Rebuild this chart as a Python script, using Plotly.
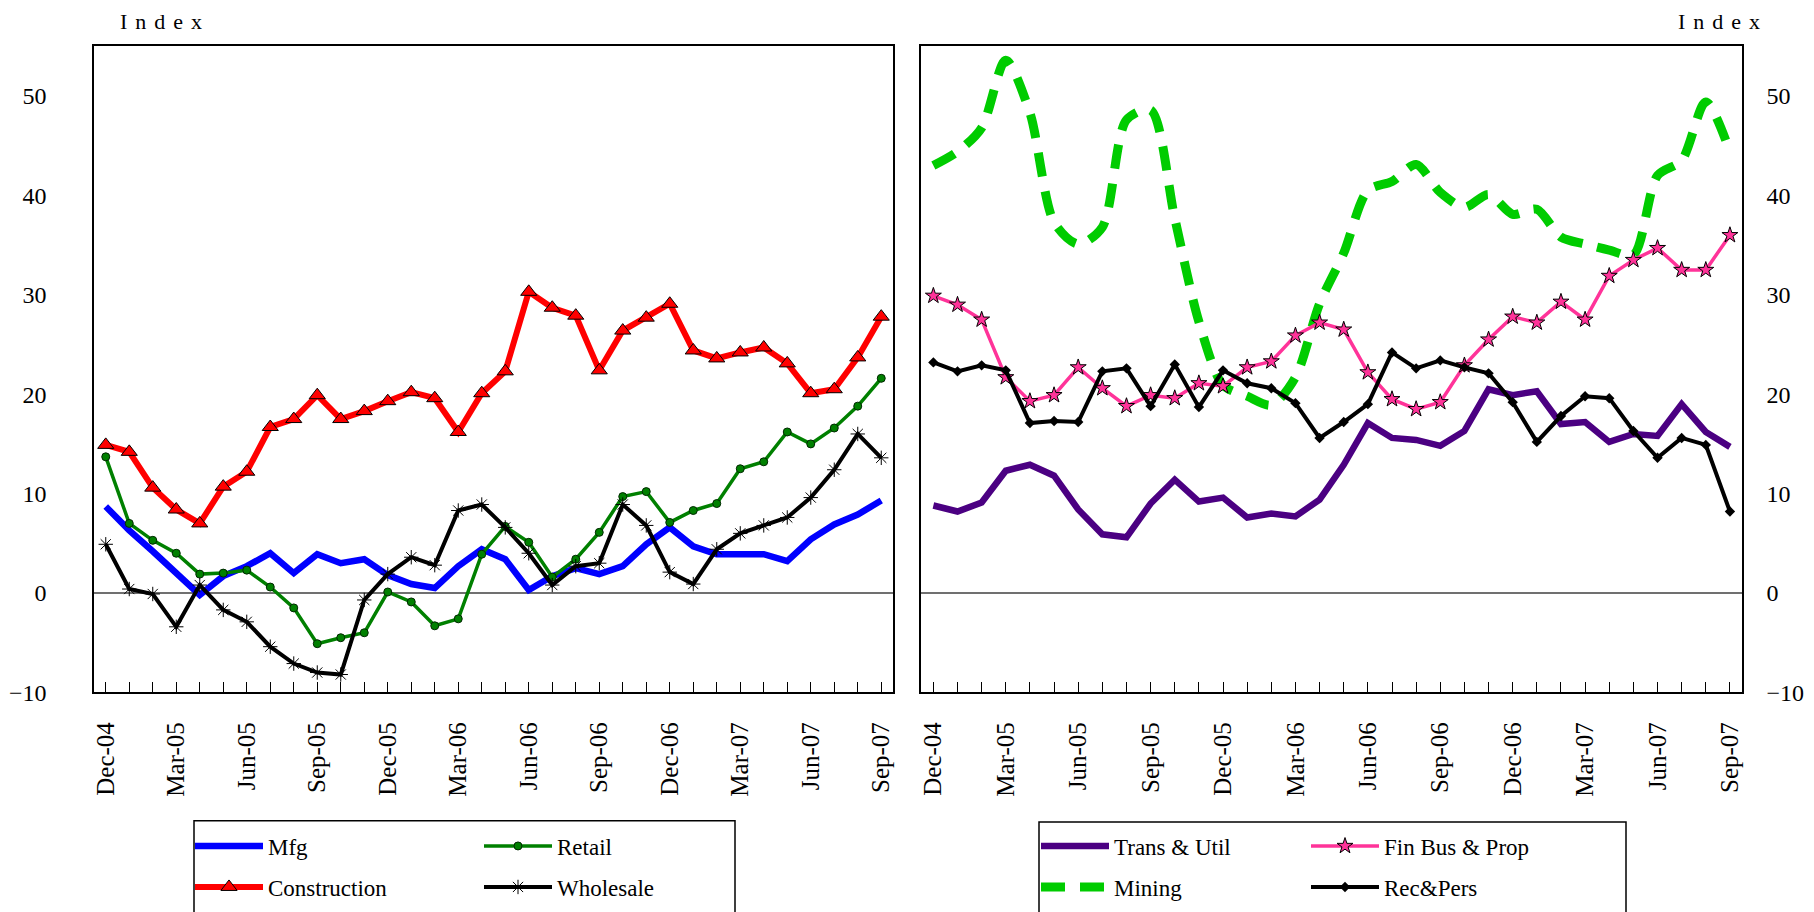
import plotly.graph_objects as go

# ---------------- data ----------------
months = ["Dec-04", "Jan-05", "Feb-05", "Mar-05", "Apr-05", "May-05", "Jun-05",
          "Jul-05", "Aug-05", "Sep-05", "Oct-05", "Nov-05", "Dec-05", "Jan-06",
          "Feb-06", "Mar-06", "Apr-06", "May-06", "Jun-06", "Jul-06", "Aug-06",
          "Sep-06", "Oct-06", "Nov-06", "Dec-06", "Jan-07", "Feb-07", "Mar-07",
          "Apr-07", "May-07", "Jun-07", "Jul-07", "Aug-07", "Sep-07"]
shown_labels = ["Dec-04", "Mar-05", "Jun-05", "Sep-05", "Dec-05", "Mar-06",
                "Jun-06", "Sep-06", "Dec-06", "Mar-07", "Jun-07", "Sep-07"]

mfg = [8.7, 6.3, 4.2, 2.0, -0.2, 1.7, 2.7, 4.0, 2.0, 3.9, 3.0, 3.4, 1.8, 0.9, 0.5,
       2.7, 4.4, 3.4, 0.3, 1.7, 2.5, 1.9, 2.7, 4.9, 6.6, 4.7, 3.9, 3.9, 3.9, 3.2,
       5.4, 6.9, 7.9, 9.3]
construction = [14.9, 14.2, 10.6, 8.4, 7.0, 10.7, 12.2, 16.7, 17.5, 19.9, 17.5,
                18.3, 19.3, 20.2, 19.6, 16.2, 20.1, 22.3, 30.3, 28.7, 27.9, 22.4,
                26.4, 27.7, 29.1, 24.4, 23.6, 24.2, 24.7, 23.1, 20.1, 20.5, 23.7, 27.8]
retail = [13.7, 7.0, 5.3, 4.0, 1.9, 2.0, 2.3, 0.6, -1.5, -5.1, -4.5, -4.0, 0.1,
          -0.9, -3.3, -2.6, 3.9, 6.7, 5.1, 1.6, 3.4, 6.1, 9.7, 10.2, 7.1, 8.3,
          9.0, 12.5, 13.2, 16.2, 15.0, 16.6, 18.8, 21.6]
wholesale = [4.9, 0.4, -0.1, -3.4, 0.8, -1.7, -2.9, -5.4, -7.1, -8.0, -8.2, -0.7,
             1.9, 3.6, 2.8, 8.3, 8.9, 6.6, 4.0, 0.8, 2.7, 3.0, 8.9, 6.8, 2.1, 0.9,
             4.4, 6.0, 6.8, 7.6, 9.6, 12.4, 16.0, 13.6]

trans_util = [8.8, 8.2, 9.1, 12.3, 12.9, 11.8, 8.4, 5.9, 5.6, 9.0, 11.4, 9.2, 9.6,
              7.6, 8.0, 7.7, 9.4, 12.9, 17.1, 15.6, 15.4, 14.8, 16.3, 20.5, 19.9,
              20.3, 17.0, 17.2, 15.2, 16.0, 15.8, 19.0, 16.2, 14.7]
mining = [43.0, 44.4, 46.8, 53.6, 48.3, 37.3, 35.1, 36.8, 47.6, 48.6, 37.7, 27.3,
          20.9, 19.8, 18.9, 21.7, 29.1, 34.2, 40.5, 41.4, 43.1, 40.3, 38.8, 40.1,
          38.1, 38.6, 35.8, 35.1, 34.5, 34.0, 42.0, 43.5, 49.4, 44.4]
fin_bus_prop = [29.9, 29.0, 27.5, 21.7, 19.3, 19.9, 22.7, 20.6, 18.8, 19.9, 19.6,
                21.1, 20.8, 22.7, 23.3, 25.9, 27.2, 26.5, 22.2, 19.5, 18.5, 19.2,
                22.9, 25.5, 27.8, 27.2, 29.3, 27.5, 31.9, 33.5, 34.7, 32.5, 32.5, 36.0]
rec_pers = [23.2, 22.3, 22.9, 22.4, 17.1, 17.3, 17.2, 22.3, 22.6, 18.8, 23.0, 18.7,
            22.4, 21.1, 20.6, 19.1, 15.6, 17.2, 19.0, 24.2, 22.6, 23.4, 22.7, 22.1,
            19.2, 15.2, 17.8, 19.8, 19.6, 16.3, 13.6, 15.6, 14.9, 8.2]

y_ticks = [-10, 0, 10, 20, 30, 40, 50]

# ---------------- figure ----------------
W, H = 1814, 912
FONT = "Liberation Serif"


def fx(p):
    return p / W


def fy(p):
    return 1 - p / H


x_idx = list(range(len(months)))
tick_text = [m if m in shown_labels else "" for m in months]

fig = go.Figure()

left_series = [
    ("Mfg", mfg, dict(color="#0000FF", width=6.5), None, "legend"),
    ("Retail", retail, dict(color="#008000", width=3.5),
     dict(symbol="circle", size=8, color="#008000", line=dict(color="#002800", width=1)), "legend2"),
    ("Wholesale", wholesale, dict(color="#000000", width=4),
     dict(symbol="asterisk-open", size=12, color="#000000", line=dict(color="#000000", width=1)), "legend4"),
    ("Construction", construction, dict(color="#FF0000", width=6),
     dict(symbol="triangle-up", size=14, color="#FF0000", line=dict(color="#000000", width=1)), "legend3"),
]
for name, vals, line, marker, lg in left_series:
    fig.add_trace(go.Scatter(
        x=x_idx, y=vals, name=name, xaxis="x", yaxis="y",
        mode="lines+markers" if marker else "lines",
        line=line, marker=marker, legend=lg, showlegend=True,
    ))

right_series = [
    ("Mining", mining, dict(color="#00CC00", width=9, dash="24px,15px", shape="spline", smoothing=0.8),
     None, "legend6"),
    ("Trans & Util", trans_util, dict(color="#4B0082", width=6.5), None, "legend5"),
    ("Fin Bus & Prop", fin_bus_prop, dict(color="#FF3399", width=3.5),
     dict(symbol="star", size=12, color="#FF3399", line=dict(color="#000000", width=1)), "legend7"),
    ("Rec&Pers", rec_pers, dict(color="#000000", width=4),
     dict(symbol="diamond", size=8, color="#000000"), "legend8"),
]
for name, vals, line, marker, lg in right_series:
    fig.add_trace(go.Scatter(
        x=x_idx, y=vals, name=name, xaxis="x2", yaxis="y2",
        mode="lines+markers" if marker else "lines",
        line=line, marker=marker, legend=lg, showlegend=True,
    ))

ydom = [fy(684.4), fy(38.3)]
common_x = dict(
    range=[-0.5, len(months) - 0.5], tickmode="array", tickvals=x_idx, ticktext=tick_text,
    tickangle=-90, ticks="inside", ticklen=11, tickwidth=1.3, tickcolor="#000000",
    showline=True, linecolor="#000000", linewidth=1.5, mirror=True, showgrid=False,
    zeroline=False, ticklabelstandoff=18,
    tickfont=dict(family=FONT, size=25, color="#000000"),
)
common_y = dict(
    range=[-10, 55], tickmode="array", tickvals=y_ticks, ticks="",
    showline=True, linecolor="#000000", linewidth=1.5, mirror=True, showgrid=False,
    zeroline=True, zerolinecolor="#707070", zerolinewidth=1.5,
    tickfont=dict(family=FONT, size=24, color="#000000"), domain=ydom,
)

fig.update_layout(
    width=W, height=H, showlegend=True,
    paper_bgcolor="#FFFFFF", plot_bgcolor="#FFFFFF",
    margin=dict(l=0, r=0, t=0, b=0, autoexpand=False),
    font=dict(family=FONT, size=23, color="#000000"),
    xaxis=dict(domain=[fx(86), fx(885)], anchor="y", **common_x),
    xaxis2=dict(domain=[fx(913.3), fx(1734)], anchor="y2", **common_x),
    yaxis=dict(anchor="x", side="left", ticklabelstandoff=41, **common_y),
    yaxis2=dict(anchor="x2", side="right", ticklabelstandoff=18, **common_y),
)

# legends: one entry each, laid out as two columns per box
leg_pos = {
    "legend": (182, 838), "legend2": (471, 838),
    "legend3": (182, 879), "legend4": (471, 879),
    "legend5": (1028, 838), "legend6": (1028, 879),
    "legend7": (1298, 838), "legend8": (1298, 879),
}
for key, (lx, ly) in leg_pos.items():
    fig.update_layout({key: dict(
        x=fx(lx), y=fy(ly), xanchor="left", yanchor="middle", visible=True,
        bgcolor="rgba(0,0,0,0)", borderwidth=0, itemwidth=68,
        font=dict(family=FONT, size=23, color="#000000"),
    )})

# legend frames (cut off by the bottom edge, as in the source)
for x0, x1, y0 in [(186, 727, 812.7), (1031, 1618, 814)]:
    fig.add_shape(type="rect", xref="paper", yref="paper",
                  x0=fx(x0), x1=fx(x1), y0=fy(y0), y1=fy(930),
                  line=dict(color="#000000", width=1.5), fillcolor="rgba(0,0,0,0)")

for cx in [157, 1715]:
    fig.add_annotation(
        xref="paper", yref="paper", x=fx(cx), y=fy(14), xanchor="center", yanchor="middle",
        text='<span style="letter-spacing:8px">Index</span>', showarrow=False,
        font=dict(family=FONT, size=22, color="#000000"),
    )

fig.write_html("out.html")
